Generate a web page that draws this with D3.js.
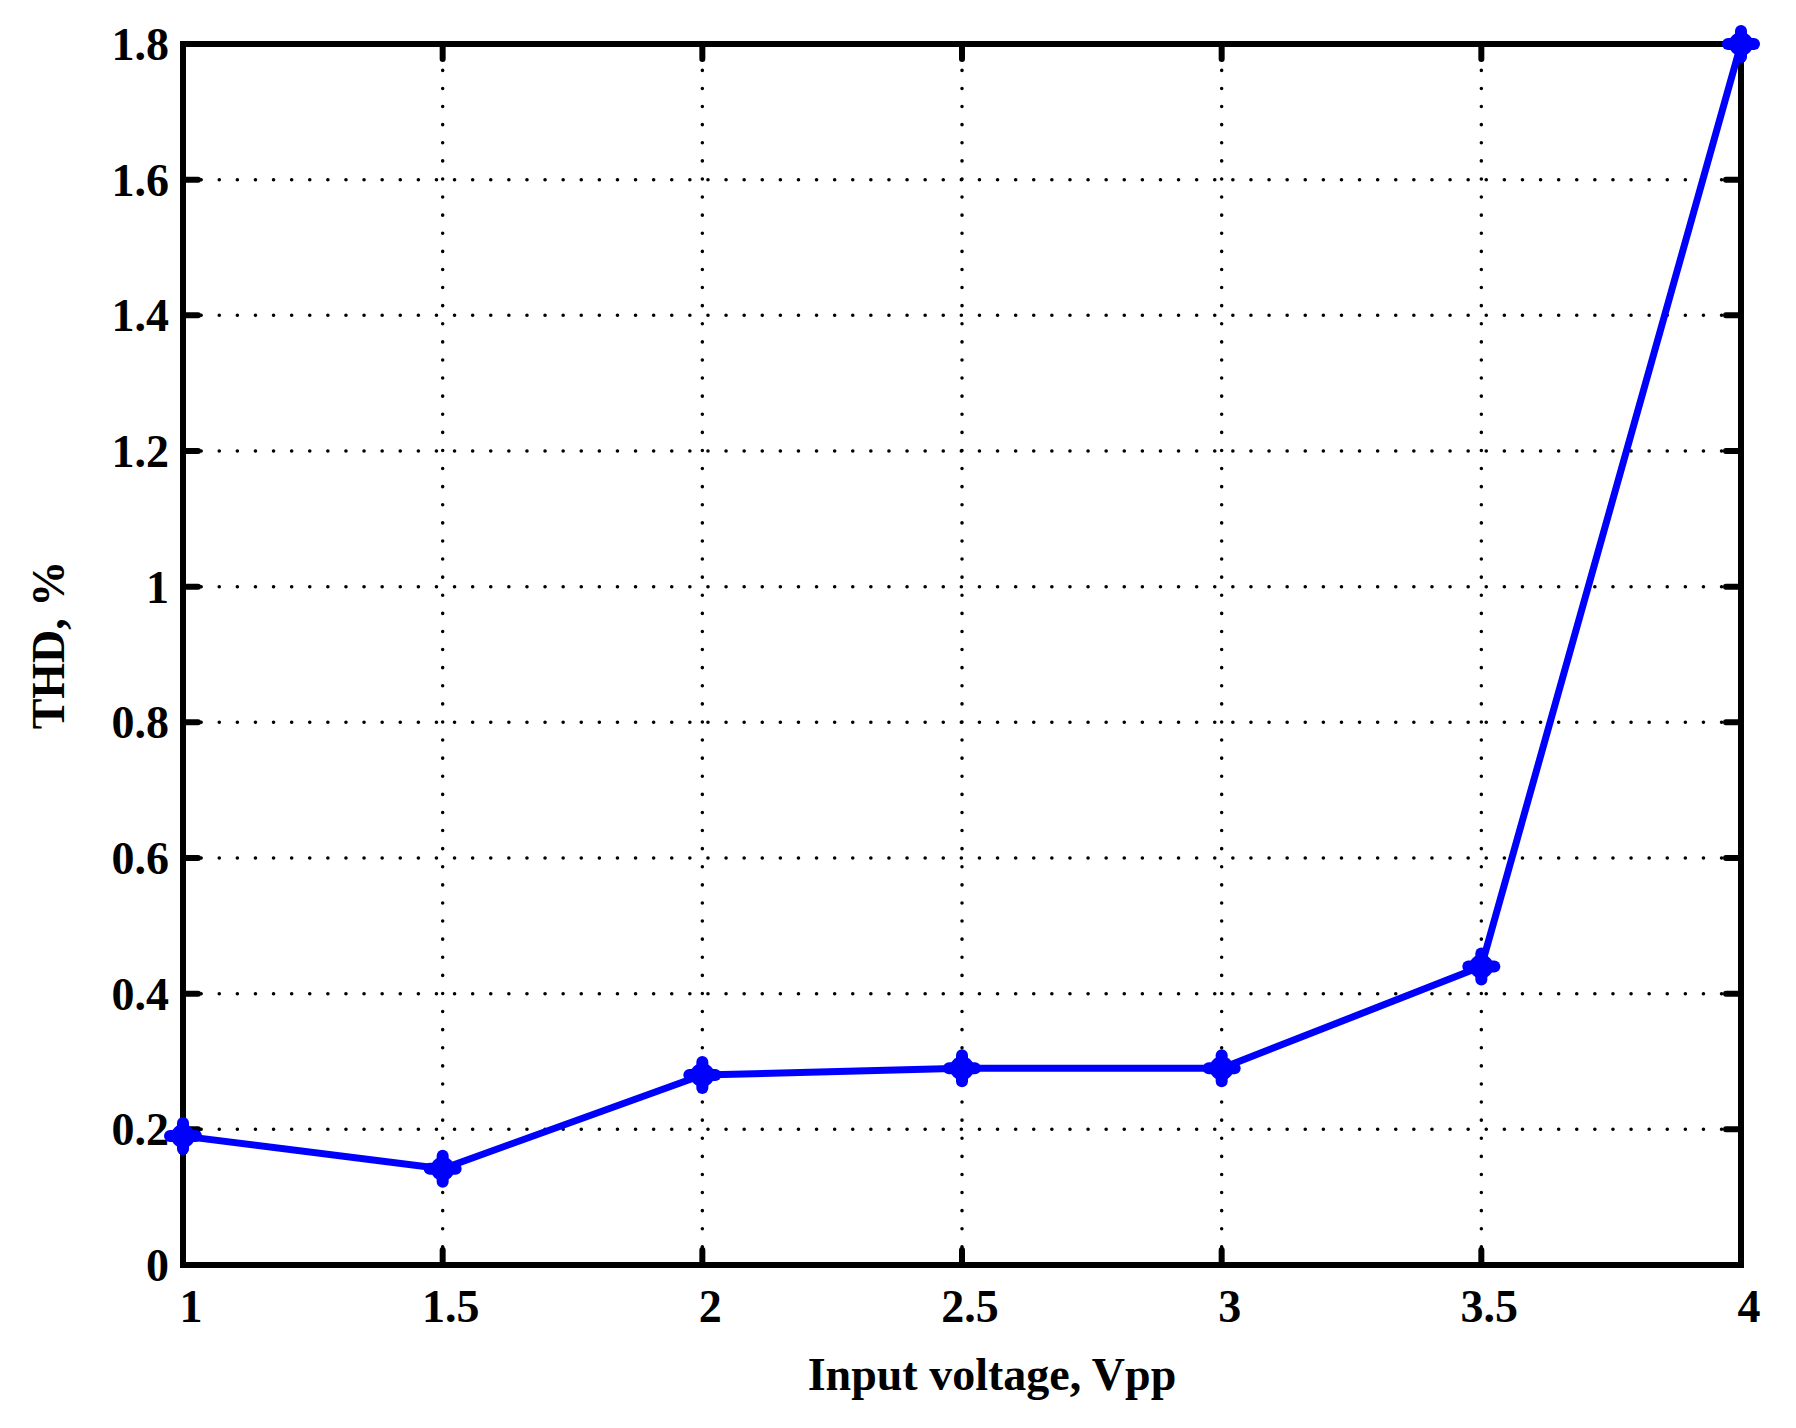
<!DOCTYPE html><html><head><script src="https://cdn.jsdelivr.net/npm/d3@7"></script>
<style>body{margin:0;background:#fff}</style></head><body><svg id="c" width="1796" height="1428"></svg>
<script>
const xs=[1,1.5,2,2.5,3,3.5,4];
const thd=[0.19,0.142,0.28,0.29,0.29,0.44,1.8];
const xTicks=[1,1.5,2,2.5,3,3.5,4];
const yTicks=[0,0.2,0.4,0.6,0.8,1,1.2,1.4,1.6,1.8];
const svg=d3.select("#c");
const L=183,R=1741,T=44,B=1265;
const x=d3.scaleLinear().domain([1,4]).range([L,R]);
const y=d3.scaleLinear().domain([0,1.8]).range([B,T]);
const font="'Liberation Serif','Times New Roman',serif";
const fs=46;
const g=svg.append("g");
xTicks.slice(1,-1).forEach(v=>g.append("line").attr("x1",x(v)).attr("x2",x(v)).attr("y1",B).attr("y2",T)
 .attr("stroke","#000").attr("stroke-width",3.5).attr("stroke-linecap","round").attr("stroke-dasharray","0.1 18"));
yTicks.slice(1,-1).forEach(v=>g.append("line").attr("y1",y(v)).attr("y2",y(v)).attr("x1",L).attr("x2",R)
 .attr("stroke","#000").attr("stroke-width",3.5).attr("stroke-linecap","round").attr("stroke-dasharray","0.1 18"));
xTicks.forEach(v=>{[[B,B-15],[T,T+15]].forEach(([a,b])=>g.append("line").attr("x1",x(v)).attr("x2",x(v)).attr("y1",a).attr("y2",b).attr("stroke","#000").attr("stroke-width",6).attr("stroke-linecap","round"));});
yTicks.forEach(v=>{[[L,L+15],[R,R-15]].forEach(([a,b])=>g.append("line").attr("y1",y(v)).attr("y2",y(v)).attr("x1",a).attr("x2",b).attr("stroke","#000").attr("stroke-width",6).attr("stroke-linecap","round"));});
g.append("rect").attr("x",L).attr("y",T).attr("width",R-L).attr("height",B-T).attr("fill","none").attr("stroke","#000").attr("stroke-width",6);
xTicks.forEach(v=>g.append("text").attr("x",x(v)+8).attr("y",1322).attr("text-anchor","middle").attr("font-family",font).attr("font-weight","bold").attr("font-size",fs).text(v));
yTicks.forEach(v=>g.append("text").attr("x",L-14).attr("y",y(v)+16).attr("text-anchor","end").attr("font-family",font).attr("font-weight","bold").attr("font-size",fs).text(v));
svg.append("text").attr("x",992).attr("y",1390).attr("text-anchor","middle").attr("font-family",font).attr("font-weight","bold").attr("font-size",fs).text("Input voltage, Vpp");
svg.append("text").attr("transform","translate(64,645) rotate(-90)").attr("text-anchor","middle").attr("font-family",font).attr("font-weight","bold").attr("font-size",fs).text("THD, %");
const line=d3.line().x((d,i)=>x(xs[i])).y(d=>y(d));
svg.append("path").attr("d",line(thd)).attr("fill","none").attr("stroke","#0000ff").attr("stroke-width",7).attr("stroke-linejoin","round");
const m=svg.append("g");
thd.forEach((d,i)=>{const cx=x(xs[i]),cy=y(d);
 m.append("line").attr("x1",cx-13).attr("x2",cx+13).attr("y1",cy).attr("y2",cy).attr("stroke","#0000ff").attr("stroke-width",12).attr("stroke-linecap","round");
 m.append("line").attr("y1",cy-13).attr("y2",cy+13).attr("x1",cx).attr("x2",cx).attr("stroke","#0000ff").attr("stroke-width",12).attr("stroke-linecap","round");
 m.append("circle").attr("cx",cx).attr("cy",cy).attr("r",12).attr("fill","#0000ff");});
</script></body></html>
